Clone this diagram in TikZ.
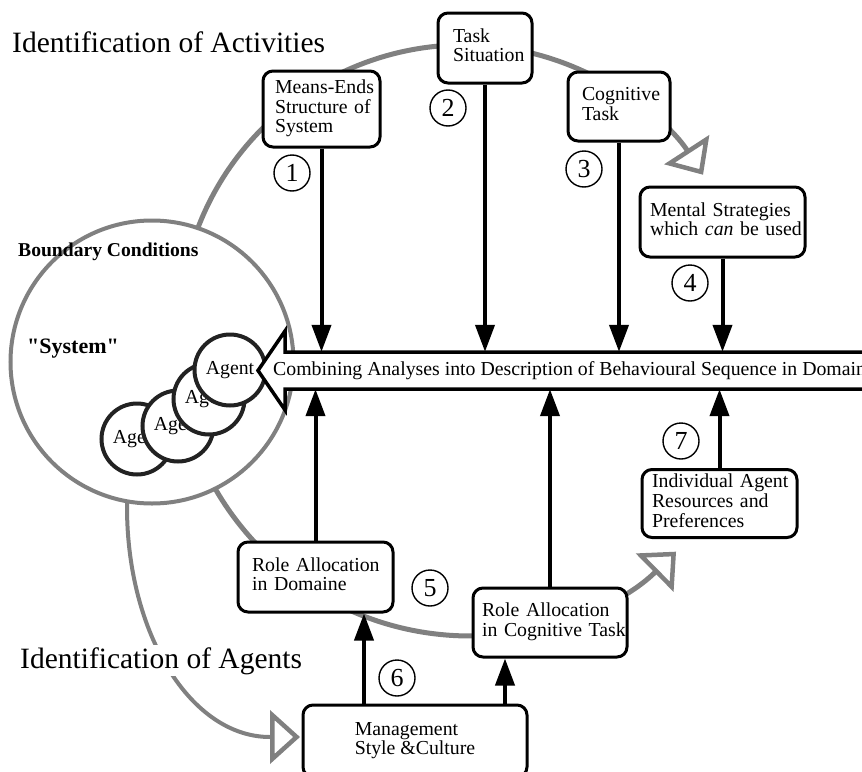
\documentclass[tikz,border=0pt]{standalone}
\usepackage{fontspec}
\setmainfont{Liberation Serif}[ItalicFont={Liberation Serif Italic},
  BoldFont={Liberation Serif Bold}]
\newfontfamily\straightquotes{Liberation Serif Bold}[Ligatures=TeXOff]
\usetikzlibrary{arrows.meta}

\definecolor{cyclegray}{RGB}{128,128,128}
\definecolor{agentline}{RGB}{34,34,34}

\newcommand\boxfont{\fontsize{19.8}{19.8}\selectfont}
\newcommand\numfont{\fontsize{26}{28}\selectfont}
\newcommand\titlefont{\fontsize{29.5}{32}\selectfont}
\newcommand\bcfont{\bfseries\fontsize{19.6}{22}\selectfont}
\newcommand\sysfont{\straightquotes\fontsize{22}{24}\selectfont}

\tikzset{
  box/.style={draw=black, line width=3pt, rounded corners=10pt, fill=white,
    inner ysep=0pt, align=left, font=\boxfont},
  flow/.style={line width=4pt, -{Triangle[length=27pt,width=19pt]}},
  cyclearc/.style={draw=cyclegray, line width=5pt,
    -{Triangle[open,length=30pt,width=53pt,line width=4.5pt]}},
  agentarc/.style={draw=cyclegray, line width=4pt,
    -{Triangle[open,length=30pt,width=53pt,line width=4.5pt]}},
  num/.style={circle, draw, line width=1.4pt, minimum size=36pt, inner sep=0pt,
    font=\numfont},
  agent/.style={circle, draw=agentline, line width=4pt, fill=white,
    minimum size=71pt, inner sep=0pt, font=\boxfont},
  label/.style={anchor=base west, inner sep=0pt},
}

\begin{document}
\begin{tikzpicture}[x=1pt,y=-1pt]
\useasboundingbox (0,0) rectangle (862,771);
\clip (0,0) rectangle (862,771);

% activity cycle (upper) and agent cycle (lower)
\draw[cyclearc] (196.2,232.5) arc[start angle=200, end angle=327, radius=285];
\draw[cyclearc] (210.4,480) arc[start angle=152, end angle=45.5, radius=294];

% identification of agents curve
\draw[agentarc] (127,490) -- (127,507)
  arc[start angle=180, end angle=90, x radius=143, y radius=230] -- (300,737);

% system boundary
\node[circle, draw=cyclegray, line width=4pt, fill=white, minimum size=283pt,
  inner sep=0pt] (boundary) at (152,362) {};
\node[label, font=\bcfont] (bc) at (18,256) {Boundary Conditions};
\node[label, font=\sysfont] (sys) at (27,353) {"System"};

% agents, back to front
\node[agent] (ag1) at (137,439) {Agent};
\node[agent] (ag2) at (178,426) {Agent};
\node[agent] (ag3) at (209,399) {Agent};
\node[agent] (ag4) at (230,370) {Agent};

% combining arrow
\draw[line width=3.5pt, fill=white] (258,370.5) -- (285,331) -- (285,352)
  -- (900,352) -- (900,389) -- (285,389) -- (285,410) -- cycle;
\node[label, font=\boxfont, text height=23pt, text depth=14pt] (comb) at (273,375)
  {Combining Analyses into Description of Behavioural Sequence in Domain};

% analysis boxes
\node[box, text width=93pt, inner xsep=12pt, minimum height=76pt] (means) at (321.5,109)
  {\begin{tabular}{@{}l@{}}Means-Ends\\Structure of\\System\end{tabular}};
\node[box, text width=64pt, inner xsep=15pt, minimum height=70pt] (task) at (485,48)
  {\begin{tabular}{@{}l@{}}Task\\Situation\end{tabular}};
\node[box, text width=74pt, inner xsep=14pt, minimum height=69pt] (cog) at (619,106.5)
  {\begin{tabular}{@{}l@{}}Cognitive\\Task\end{tabular}};
\node[box, text width=145pt, inner xsep=10pt, minimum height=70pt] (mental) at (722.5,222)
  {\begin{tabular}{@{}l@{}}Mental Strategies\\which \textit{can} be used\end{tabular}};
\node[box, text width=135pt, inner xsep=10pt, minimum height=68pt] (indiv) at (719.5,503.5)
  {\begin{tabular}{@{}l@{}}Individual Agent\\Resources and\\Preferences\end{tabular}};
\node[box, text width=127pt, inner xsep=14pt, minimum height=70pt] (roledom) at (315.5,577)
  {\begin{tabular}{@{}l@{}}Role Allocation\\in Domaine\end{tabular}};
\node[box, text width=136pt, inner xsep=9pt, minimum height=69pt] (rolecog) at (550,622.5)
  {\begin{tabular}{@{}l@{}}Role Allocation\\in Cognitive Task\end{tabular}};
\node[box, minimum width=224pt, minimum height=72pt] (mgmt) at (415,741)
  {\begin{tabular}{@{}l@{}}Management\\Style \&Culture\end{tabular}};

% flows into the combined description
\draw[flow] (means.south) -- (means.south |- comb.north);
\draw[flow] (task.south) -- (task.south |- comb.north);
\draw[flow] (cog.south) -- (cog.south |- comb.north);
\draw[flow] (mental.south) -- (mental.south |- comb.north);
\draw[flow] (roledom.north) -- (roledom.north |- comb.south);
\draw[flow] (rolecog.north) -- (rolecog.north |- comb.south);
\draw[flow] (indiv.north) -- (indiv.north |- comb.south);
\draw[flow] ([xshift=-51pt]mgmt.north) -- ([xshift=-51pt]mgmt.north |- roledom.south);
\draw[flow] ([xshift=90pt]mgmt.north) -- ([xshift=90pt]mgmt.north |- rolecog.south);

% step numbers
\node[num] (n1) at (292,173) {1};
\node[num] (n2) at (448,108) {2};
\node[num] (n3) at (584,169) {3};
\node[num] (n4) at (690,283) {4};
\node[num] (n5) at (430,588) {5};
\node[num] (n6) at (397,678) {6};
\node[num] (n7) at (681,441) {7};

% headings
\node[label, font=\titlefont] (acttitle) at (12,52) {Identification of Activities};
\node[label, font=\titlefont, fill=white, inner sep=2pt] (agtitle) at (18,668)
  {Identification of Agents};
\end{tikzpicture}
\end{document}
